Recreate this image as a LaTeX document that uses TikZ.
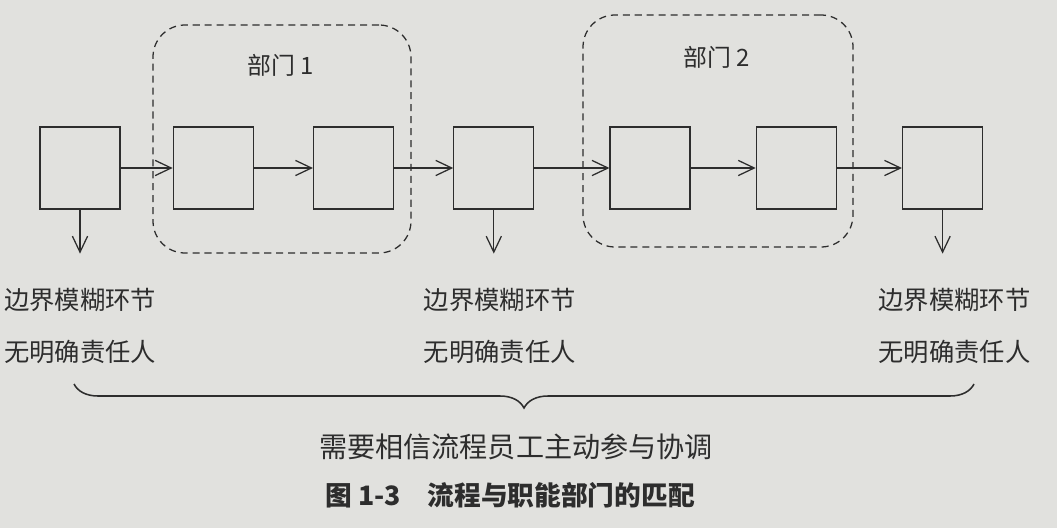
\documentclass[tikz,border=0pt]{standalone}
\usepackage{fontspec}
\newfontfamily\cjk{Noto Sans CJK SC}
\usepackage{tikz}
\usetikzlibrary{arrows.meta, positioning, decorations.pathreplacing}
\definecolor{paper}{RGB}{225,225,222}
\definecolor{ink}{RGB}{45,45,45}
\tikzstyle{stepbox} = [rectangle, minimum width=2cm, minimum height=2.05cm, draw=ink, line width=0.9pt]
\tikzstyle{dept} = [rectangle, rounded corners=0.8cm, draw=ink, line width=0.9pt, dash pattern=on 5pt off 3.5pt]
\tikzstyle{arrow} = [draw=ink, line width=0.9pt, -{Straight Barb[length=4mm,width=3.8mm]}]
\tikzstyle{note} = [text=ink, font=\cjk\fontsize{18}{20}\selectfont]
\tikzstyle{brace} = [draw=ink, line width=1.1pt, decorate, decoration={brace, mirror, amplitude=0.6cm}]

\begin{document}
\begin{tikzpicture}[node distance=1.5cm]
\fill [paper] (0,0) rectangle (26.425,-13.2);
\useasboundingbox (0,0) rectangle (26.425,-13.2);

% departments
\node (dept1) [dept, minimum width=6.45cm, minimum height=5.7cm] at (7.05,-3.475) {};
\node (dept2) [dept, minimum width=6.75cm, minimum height=5.8cm] at (17.95,-3.275) {};
\node (lab1) [note, font=\cjk\fontsize{17}{20}\selectfont] at (7.025,-1.625) {部门 1};
\node (lab2) [note, font=\cjk\fontsize{17}{20}\selectfont] at (17.925,-1.425) {部门 2};

% process steps
\node (a) [stepbox] at (2.0,-4.2) {};
\node (b) [stepbox, right=1.3cm of a] {};
\node (c) [stepbox, right=1.475cm of b] {};
\node (d) [stepbox, right=1.475cm of c] {};
\node (e) [stepbox, right=1.875cm of d] {};
\node (f) [stepbox, right=1.625cm of e] {};
\node (g) [stepbox, right=1.625cm of f] {};

\coordinate [below=1.1cm of a] (a1);
\coordinate [below=1.1cm of d] (d1);
\coordinate [below=1.1cm of g] (g1);

\draw [arrow] (a) -- (b);
\draw [arrow] (b) -- (c);
\draw [arrow] (c) -- (d);
\draw [arrow] (d) -- (e);
\draw [arrow] (e) -- (f);
\draw [arrow] (f) -- (g);
\draw [arrow] (a) -- (a1);
\draw [arrow] (d) -- (d1);
\draw [arrow] (g) -- (g1);

% notes
\node (n1) [note, below=0.75cm of a1] {边界模糊环节};
\node (m1) [note, below=0.45cm of n1] {无明确责任人};
\node (n2) [note, below=0.75cm of d1, xshift=0.15cm] {边界模糊环节};
\node (m2) [note, below=0.45cm of n2] {无明确责任人};
\node (n3) [note, below=0.75cm of g1, xshift=0.3cm] {边界模糊环节};
\node (m3) [note, below=0.45cm of n3] {无明确责任人};

\coordinate (br1) at (1.85,-9.6);
\coordinate (br2) at (24.35,-9.6);
\draw [brace] (br1) -- (br2);

\node (sum) [note, font=\cjk\fontsize{20}{22}\selectfont] at (12.9,-11.175) {需要相信流程员工主动参与协调};
\node (cap) [note, font=\cjk\bfseries\fontsize{19}{22}\selectfont] at (12.75,-12.375) {图 1-3\quad 流程与职能部门的匹配};
\end{tikzpicture}
\end{document}
